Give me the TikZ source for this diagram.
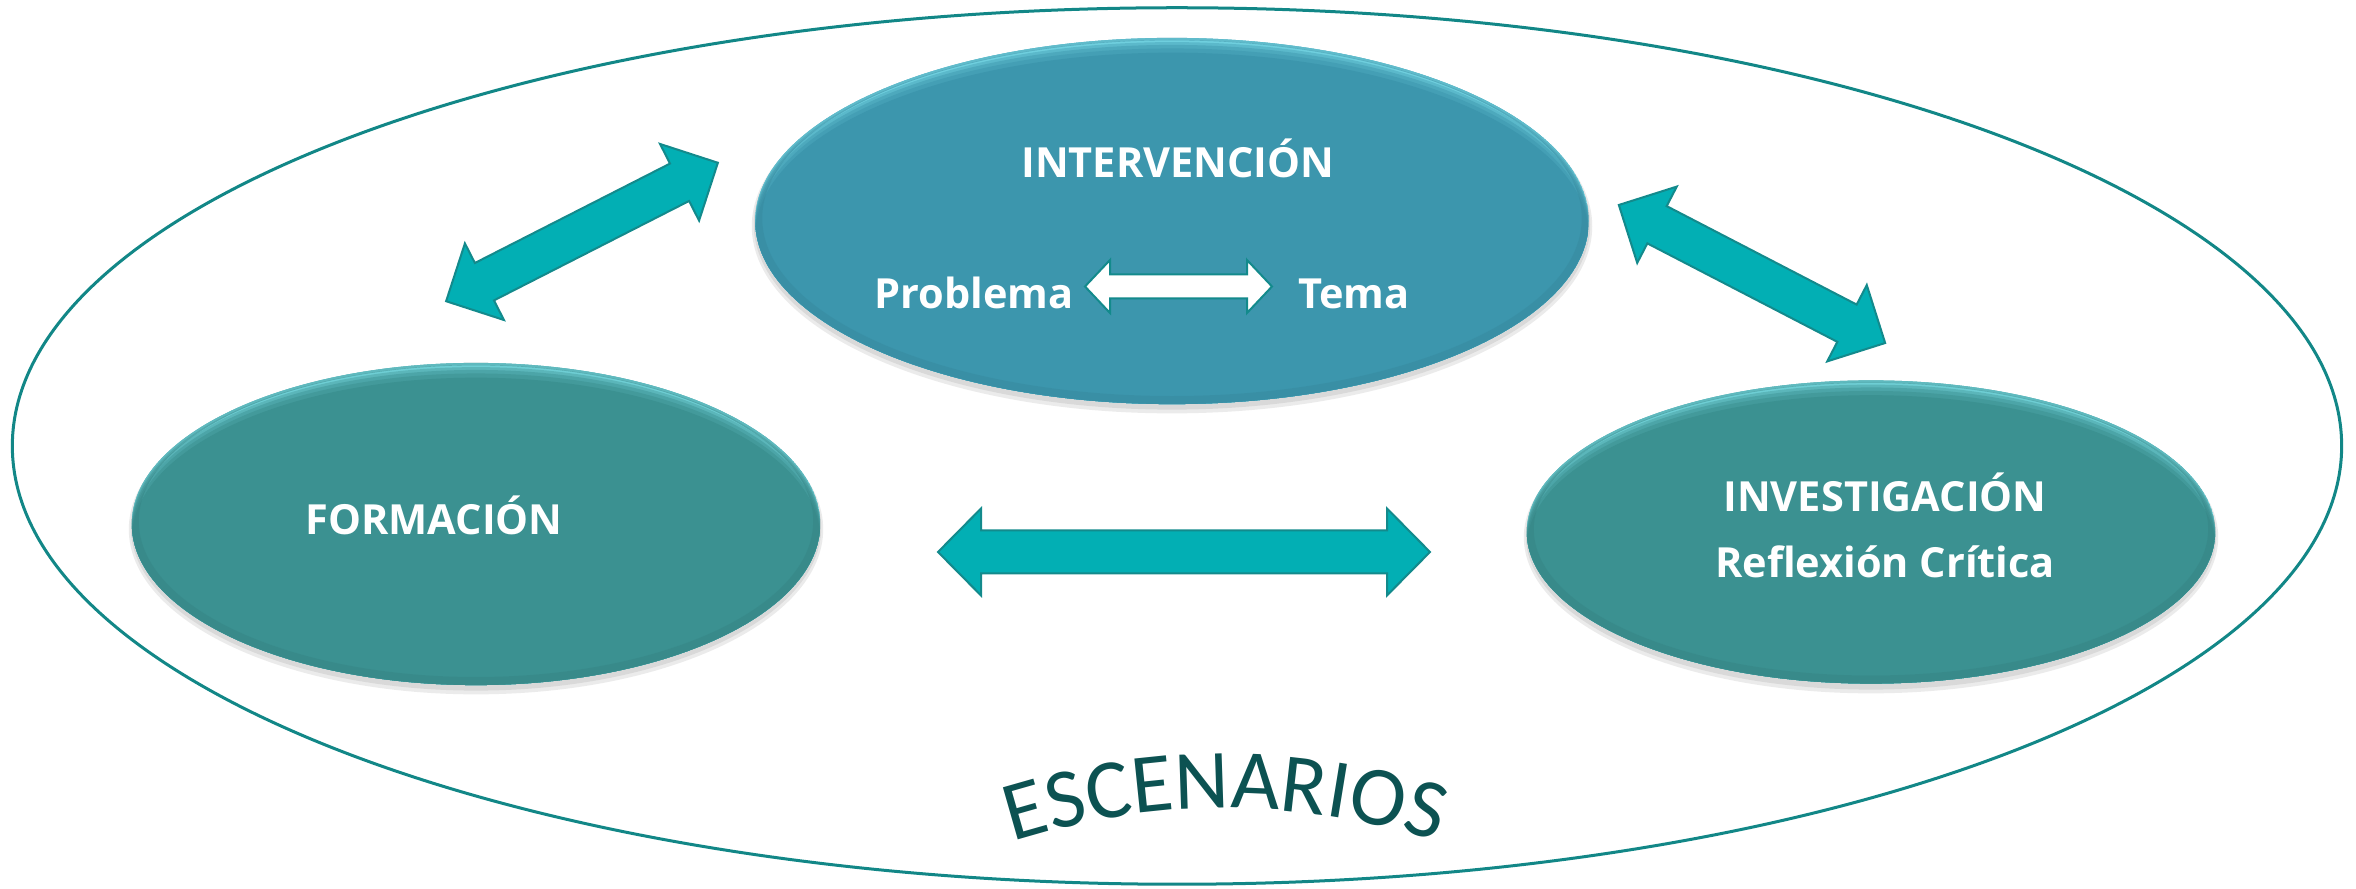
\documentclass[tikz,border=0pt]{standalone}
\usepackage{fontspec}
\setmainfont{Open Sans}
\newfontfamily\escfont{Carlito}
\usetikzlibrary{shapes.geometric,decorations.text}

\definecolor{ringcol}{HTML}{128787}
\definecolor{intercol}{HTML}{3C96AD}
\definecolor{tealcol}{HTML}{3B9191}
\definecolor{rimcol}{HTML}{8AEEF8}
\definecolor{arrfill}{HTML}{02AFB4}
\definecolor{arrline}{HTML}{138A8C}
\definecolor{esccol}{HTML}{0C5252}

\tikzset{
  ring/.style={ellipse, draw=ringcol, line width=0.03cm, minimum width=23.28cm, minimum height=8.76cm, inner sep=0pt},
  oval/.style n args={3}{ellipse, minimum width=#1, minimum height=#2, inner sep=0pt, fill=#3,
    path picture={
      \fill[rimcol] (path picture bounding box.south west) rectangle (path picture bounding box.north east);
      \fill[#3!35!rimcol] ([yshift=-0.6pt]path picture bounding box.center) ellipse [x radius=#1/2, y radius=#2/2];
      \fill[#3!60!rimcol] ([yshift=-1.2pt]path picture bounding box.center) ellipse [x radius=#1/2, y radius=#2/2];
      \fill[#3!78!rimcol] ([yshift=-2.0pt]path picture bounding box.center) ellipse [x radius=#1/2, y radius=#2/2];
      \fill[#3!90!rimcol] ([yshift=-3.0pt]path picture bounding box.center) ellipse [x radius=#1/2, y radius=#2/2];
      \fill[#3] ([yshift=-4.2pt]path picture bounding box.center) ellipse [x radius=#1/2, y radius=#2/2];
      \fill[#3!92!black, opacity=0.5, even odd rule] (path picture bounding box.center) ellipse [x radius=#1/2, y radius=#2/2]
         ([yshift=0.8pt]path picture bounding box.center) ellipse [x radius=#1/2-2pt, y radius=#2/2-1.5pt];
    }},
  ovalshadow/.style={fill=black, opacity=0.08},
  lbl/.style={text=white, font=\bfseries\fontsize{11.8pt}{14pt}\selectfont, inner sep=0pt, anchor=base},
  bigarrow/.style={fill=arrfill, draw=arrline, line width=0.02cm},
  whitearrow/.style={fill=white, draw=arrline, line width=0.02cm},
  pics/dblarrow/.style n args={4}{code={
    \path[pic actions] (-#1,0) -- (-#1+#4,#3) -- (-#1+#4,#2) -- (#1-#4,#2) -- (#1-#4,#3) -- (#1,0)
      -- (#1-#4,-#3) -- (#1-#4,-#2) -- (-#1+#4,-#2) -- (-#1+#4,-#3) -- cycle;
  }}
}

\begin{document}
\begin{tikzpicture}[x=0.01cm,y=-0.01cm]
\useasboundingbox (0,0) rectangle (2356,889);

% outer scenario ring
\node[ring] (esc) at (1177,446) {};

% centres
\coordinate (cI) at (1172,221);
\coordinate (cF) at (476,524);
\coordinate (cV) at (1871,532);

% soft shadows
\fill[ovalshadow] ([yshift=-1.5pt]cI) ellipse [x radius=4.20cm, y radius=1.87cm];
\fill[ovalshadow] ([yshift=-1pt]cI) ellipse [x radius=4.18cm, y radius=1.85cm];
\fill[ovalshadow] ([yshift=-1.5pt]cF) ellipse [x radius=3.47cm, y radius=1.65cm];
\fill[ovalshadow] ([yshift=-1pt]cF) ellipse [x radius=3.45cm, y radius=1.63cm];
\fill[ovalshadow] ([yshift=-1.5pt]cV) ellipse [x radius=3.47cm, y radius=1.56cm];
\fill[ovalshadow] ([yshift=-1pt]cV) ellipse [x radius=3.45cm, y radius=1.54cm];

% main ovals
\node[oval={8.33cm}{3.66cm}{intercol}] (inter) at (cI) {};
\node[oval={6.88cm}{3.22cm}{tealcol}] (form) at (cF) {};
\node[oval={6.88cm}{3.03cm}{tealcol}] (inv) at (cV) {};

% labels
\node[lbl] (tInter) at (1178,178) {INTERVENCIÓN};
\node[lbl] (tProb) at (974,309) {Problema};
\node[lbl] (tTema) at (1354,309) {Tema};
\node[lbl] (tForm) at (434,535) {FORMACIÓN};
\node[lbl] (tInv) at (1885,512) {INVESTIGACIÓN};
\node[lbl] (tRef) at (1885,578) {Reflexión Crítica};

% block arrows
\pic[bigarrow, rotate=27] at (582,232) {dblarrow={152.5}{21}{43}{43}};
\pic[bigarrow, rotate=-27.4] at (1752,274) {dblarrow={150}{21}{43}{43}};
\pic[bigarrow] at (1184,552) {dblarrow={246}{21.5}{43.5}{43}};
\pic[whitearrow] at (1178.5,286.5) {dblarrow={93.5}{12}{26.5}{25}};

% curved title
\path[decorate, decoration={text along path, text align=center, text color=esccol,
  text={|\escfont\fontsize{24pt}{24pt}\selectfont|ESCENARIOS}}]
  (985,851) .. controls (1145,794) and (1305,794) .. (1465,851);
\end{tikzpicture}
\end{document}
